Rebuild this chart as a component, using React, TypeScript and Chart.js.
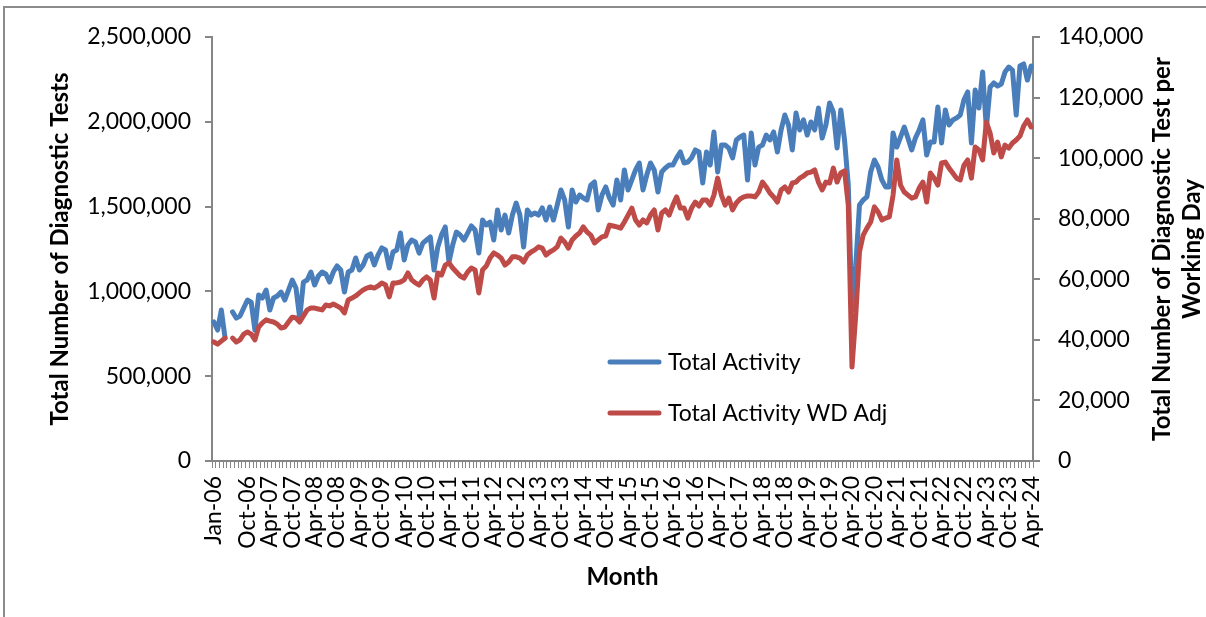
import React, { useEffect, useRef } from "react";
import { Chart, registerables } from "chart.js";

Chart.register(...registerables);

// ---------- DATA ----------
const monthNames = ["Jan", "Feb", "Mar", "Apr", "May", "Jun", "Jul", "Aug", "Sep", "Oct", "Nov", "Dec"];
const years = [2006, 2007, 2008, 2009, 2010, 2011, 2012, 2013, 2014, 2015, 2016, 2017, 2018, 2019, 2020, 2021, 2022, 2023, 2024];
const lastMonthCount2024 = 4;

const categories: string[] = [];
years.forEach((y) => {
  const n = y === 2024 ? lastMonthCount2024 : 12;
  for (let m = 0; m < n; m++) categories.push(`${monthNames[m]}-${String(y % 100).padStart(2, "0")}`);
});

const shownTickLabels = [
  "Jan-06", "Oct-06", "Apr-07", "Oct-07", "Apr-08", "Oct-08", "Apr-09", "Oct-09", "Apr-10", "Oct-10",
  "Apr-11", "Oct-11", "Apr-12", "Oct-12", "Apr-13", "Oct-13", "Apr-14", "Oct-14", "Apr-15", "Oct-15",
  "Apr-16", "Oct-16", "Apr-17", "Oct-17", "Apr-18", "Oct-18", "Apr-19", "Oct-19", "Apr-20", "Oct-20",
  "Apr-21", "Oct-21", "Apr-22", "Oct-22", "Apr-23", "Oct-23", "Apr-24",
];

const leftTicks = [0, 500000, 1000000, 1500000, 2000000, 2500000];
const rightTicks = [0, 20000, 40000, 60000, 80000, 100000, 120000, 140000];

const seriesNames = ["Total Activity", "Total Activity WD Adj"];

const totalActivity: (number | null)[] = [
  // 2006
  820000, 772000, 890000, 725000, null, 879000, 843000, 855000, 902000, 949000, 937000, 772000,
  // 2007
  979000, 961000, 1008000, 890000, 961000, 973000, 996000, 949000, 1008000, 1067000, 1020000, 843000,
  // 2008
  1055000, 1067000, 1114000, 1038000, 1091000, 1114000, 1103000, 1055000, 1114000, 1150000, 1126000, 996000,
  // 2009
  1114000, 1126000, 1197000, 1126000, 1156000, 1209000, 1221000, 1156000, 1215000, 1256000, 1244000, 1138000,
  // 2010
  1232000, 1244000, 1344000, 1185000, 1274000, 1303000, 1291000, 1226000, 1285000, 1303000, 1321000, 1126000,
  // 2011
  1262000, 1333000, 1380000, 1173000, 1274000, 1350000, 1333000, 1303000, 1344000, 1386000, 1362000, 1226000,
  // 2012
  1421000, 1392000, 1409000, 1303000, 1480000, 1362000, 1450000, 1344000, 1450000, 1521000, 1450000, 1262000,
  // 2013
  1480000, 1450000, 1462000, 1450000, 1492000, 1421000, 1498000, 1421000, 1509000, 1598000, 1539000, 1380000,
  // 2014
  1598000, 1527000, 1568000, 1551000, 1539000, 1627000, 1645000, 1480000, 1568000, 1616000, 1551000, 1509000,
  // 2015
  1657000, 1539000, 1716000, 1598000, 1657000, 1716000, 1757000, 1598000, 1686000, 1757000, 1716000, 1586000,
  // 2016
  1704000, 1728000, 1745000, 1745000, 1787000, 1822000, 1757000, 1763000, 1787000, 1834000, 1822000, 1639000,
  // 2017
  1822000, 1745000, 1940000, 1704000, 1863000, 1863000, 1845000, 1787000, 1893000, 1910000, 1922000, 1657000,
  // 2018
  1934000, 1745000, 1851000, 1863000, 1922000, 1893000, 1940000, 1822000, 1952000, 2040000, 1981000, 1834000,
  // 2019
  2052000, 1952000, 2011000, 1922000, 1999000, 1952000, 2081000, 1904000, 1981000, 2111000, 2058000, 1845000,
  // 2020
  2070000, 1893000, 1627000, 890000, 1150000, 1509000, 1539000, 1557000, 1704000, 1775000, 1733000, 1657000,
  // 2021
  1616000, 1616000, 1934000, 1851000, 1910000, 1969000, 1904000, 1834000, 1904000, 1952000, 2011000, 1804000,
  // 2022
  1881000, 1881000, 2087000, 1875000, 2070000, 1981000, 2011000, 2022000, 2040000, 2129000, 2176000, 1875000,
  // 2023
  2187000, 2081000, 2294000, 1963000, 2205000, 2229000, 2211000, 2223000, 2294000, 2323000, 2305000, 2040000,
  // 2024
  2329000, 2341000, 2246000, 2329000,
];

const totalActivityWdAdj: (number | null)[] = [
  // 2006
  39300, 38600, 39600, 40600, null, 40600, 39300, 40000, 41900, 42600, 41900, 40000,
  // 2007
  44200, 45600, 46600, 46200, 45900, 45200, 43900, 44200, 45900, 47500, 47200, 45900,
  // 2008
  47900, 49900, 50500, 50500, 50200, 49900, 51500, 51200, 51800, 51200, 50500, 48900,
  // 2009
  53200, 53800, 54500, 55500, 56500, 57100, 57500, 57100, 57800, 58800, 58100, 54200,
  // 2010
  58800, 58800, 59100, 59800, 62100, 59800, 58800, 58100, 59800, 60800, 59800, 53800,
  // 2011
  62100, 61400, 64700, 65400, 63700, 62400, 61100, 60400, 62400, 63700, 63100, 55500,
  // 2012
  63100, 64400, 67000, 68700, 68000, 67000, 64700, 65700, 67400, 67400, 67000, 65700,
  // 2013
  68000, 69000, 69700, 70700, 70300, 68000, 69000, 69700, 70700, 73600, 72300, 70300,
  // 2014
  73000, 74300, 75300, 77300, 75600, 74600, 72000, 73000, 74000, 74300, 77900, 77600,
  // 2015
  77300, 76900, 78900, 81200, 83500, 79600, 77900, 79600, 78600, 81200, 82900, 76300,
  // 2016
  81900, 82900, 81200, 84500, 87200, 83500, 83500, 80200, 83500, 85500, 84200, 86200,
  // 2017
  86200, 84500, 87800, 93400, 87800, 84500, 86800, 82900, 85200, 86500, 87200, 87500,
  // 2018
  87500, 87200, 88800, 92100, 90500, 88500, 87200, 85500, 89500, 90500, 88800, 91800,
  // 2019
  92100, 93400, 94100, 95100, 95400, 96100, 92100, 89500, 92100, 91800, 96700, 92100,
  // 2020
  95100, 95800, 84500, 31000, 48200, 69000, 74600, 76900, 78900, 83900, 82200, 79600,
  // 2021
  80200, 80600, 87800, 99400, 91100, 88800, 87800, 86800, 87200, 90100, 92100, 85500,
  // 2022
  95100, 93400, 91100, 98400, 98700, 96700, 95100, 93400, 92800, 97700, 99400, 93400,
  // 2023
  103700, 102700, 99400, 111900, 108300, 101700, 105300, 100400, 104300, 103300, 105000, 106000,
  // 2024
  107300, 110600, 112600, 110300,
];

// ---------- STYLE ----------
const BLUE = "#4A7EBB";
const RED = "#BE4B48";
const AXIS = "#868686";
const FONT = "Lato";

const fmt = (v: number) => Number(v).toLocaleString("en-US");

const decorPlugin = {
  id: "decor",
  afterDraw(chart: any) {
    const { ctx, chartArea } = chart;
    const midY = (chartArea.top + chartArea.bottom) / 2;
    const midX = (chartArea.left + chartArea.right) / 2;
    ctx.save();
    ctx.fillStyle = "#000";
    ctx.textAlign = "center";
    ctx.textBaseline = "middle";
    ctx.font = `bold 24px ${FONT}`;

    const vText = (text: string, x: number, y: number) => {
      ctx.save();
      ctx.translate(x, y);
      ctx.rotate(-Math.PI / 2);
      ctx.fillText(text, 0, 0);
      ctx.restore();
    };
    vText("Total Number of Diagnostic Tests", 60, midY);
    vText("Total Number of Diagnostic Test per", 1162, midY);
    vText("Working Day", 1192, midY);
    ctx.fillText("Month", midX, 577);

    // legend
    const items = [
      { label: seriesNames[0], color: BLUE, y: 362 },
      { label: seriesNames[1], color: RED, y: 413 },
    ];
    ctx.font = `23px ${FONT}`;
    ctx.textAlign = "left";
    items.forEach((it) => {
      ctx.strokeStyle = it.color;
      ctx.lineWidth = 5;
      ctx.lineCap = "round";
      ctx.beginPath();
      ctx.moveTo(610, it.y);
      ctx.lineTo(659, it.y);
      ctx.stroke();
      ctx.fillText(it.label, 668, it.y + 1);
    });
    ctx.restore();
  },
};

export default function App() {
  const canvasRef = useRef<HTMLCanvasElement | null>(null);

  useEffect(() => {
    if (!canvasRef.current) return;
    const tickSet = new Set(shownTickLabels);
    const chart = new Chart(canvasRef.current, {
      type: "line",
      data: {
        labels: categories,
        datasets: [
          {
            label: seriesNames[0],
            data: totalActivity,
            borderColor: BLUE,
            backgroundColor: BLUE,
            borderWidth: 5,
            pointRadius: 0,
            tension: 0,
            spanGaps: false,
            borderJoinStyle: "round",
            borderCapStyle: "round",
            yAxisID: "y",
            order: 2,
          },
          {
            label: seriesNames[1],
            data: totalActivityWdAdj,
            borderColor: RED,
            backgroundColor: RED,
            borderWidth: 5,
            pointRadius: 0,
            tension: 0,
            spanGaps: false,
            borderJoinStyle: "round",
            borderCapStyle: "round",
            yAxisID: "y1",
            order: 1,
          },
        ],
      },
      options: {
        responsive: false,
        animation: false,
        devicePixelRatio: 1,
        layout: { padding: { top: 37, left: 0, right: 0, bottom: 0 } },
        plugins: { legend: { display: false }, tooltip: { enabled: false } },
        scales: {
          x: {
            type: "category",
            offset: true,
            grid: {
              display: true,
              drawOnChartArea: false,
              drawTicks: true,
              tickLength: 7,
              offset: true,
              color: AXIS,
              lineWidth: 1,
            },
            border: { display: true, color: AXIS, width: 2 },
            ticks: {
              autoSkip: false,
              maxRotation: 90,
              minRotation: 90,
              padding: 8,
              color: "#000",
              font: { family: FONT, size: 23 },
              callback: (_v: any, i: number) => (tickSet.has(categories[i]) ? categories[i] : ""),
            },
            afterFit: (s: any) => {
              s.height = 156;
            },
          },
          y: {
            position: "left",
            min: leftTicks[0],
            max: leftTicks[leftTicks.length - 1],
            afterBuildTicks: (s: any) => {
              s.ticks = leftTicks.map((v) => ({ value: v }));
            },
            grid: {
              display: true,
              drawOnChartArea: false,
              drawTicks: true,
              tickLength: 7,
              color: AXIS,
              lineWidth: 2,
            },
            border: { display: true, color: AXIS, width: 2 },
            ticks: {
              padding: 14,
              color: "#000",
              font: { family: FONT, size: 23 },
              callback: (v: any) => fmt(v),
            },
            afterFit: (s: any) => {
              s.width = 212;
            },
          },
          y1: {
            position: "right",
            min: rightTicks[0],
            max: rightTicks[rightTicks.length - 1],
            afterBuildTicks: (s: any) => {
              s.ticks = rightTicks.map((v) => ({ value: v }));
            },
            grid: {
              display: true,
              drawOnChartArea: false,
              drawTicks: true,
              tickLength: 7,
              color: AXIS,
              lineWidth: 2,
            },
            border: { display: true, color: AXIS, width: 2 },
            ticks: {
              padding: 18,
              color: "#000",
              font: { family: FONT, size: 23 },
              callback: (v: any) => fmt(v),
            },
            afterFit: (s: any) => {
              s.width = 173;
            },
          },
        },
      },
      plugins: [decorPlugin],
    });
    return () => chart.destroy();
  }, []);

  return (
    <div
      style={{
        position: "fixed",
        left: 0,
        top: 0,
        width: 1206,
        height: 617,
        background: "#fff",
        overflow: "hidden",
      }}
    >
      <div
        style={{
          position: "absolute",
          left: 3,
          top: 6,
          width: 1400,
          height: 800,
          borderTop: "2px solid #8c8c8c",
          borderLeft: "2px solid #8c8c8c",
          boxSizing: "border-box",
        }}
      />
      <canvas
        ref={canvasRef}
        width={1206}
        height={617}
        style={{ position: "absolute", left: 0, top: 0, width: 1206, height: 617 }}
      />
    </div>
  );
}
